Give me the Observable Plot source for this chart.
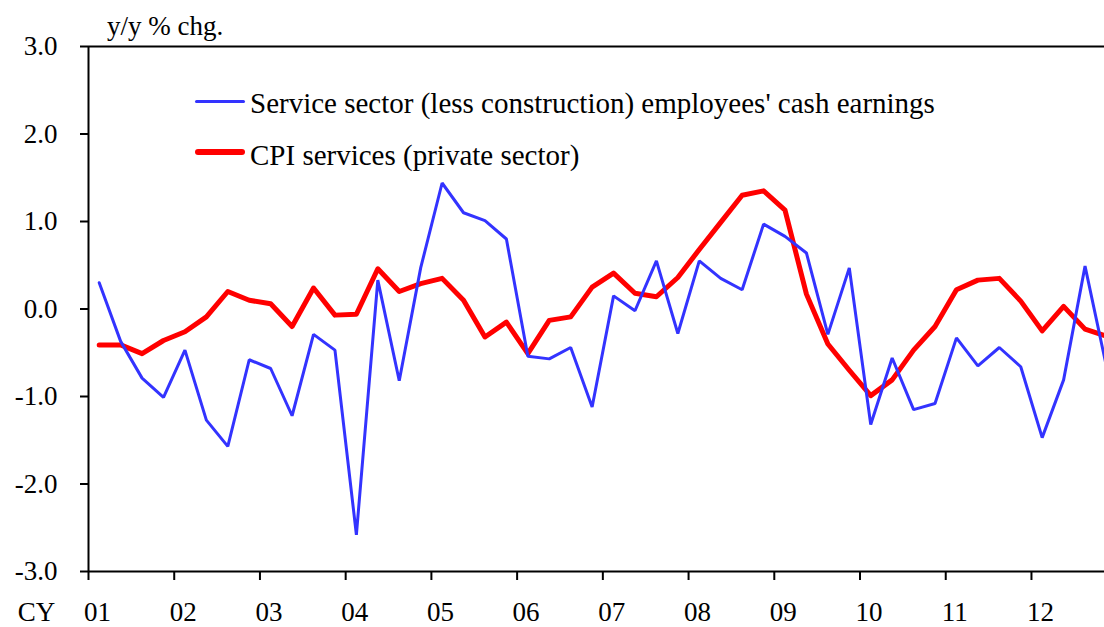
<!DOCTYPE html>
<html><head><meta charset="utf-8">
<script src="https://cdn.jsdelivr.net/npm/d3@7"></script>
<script src="https://cdn.jsdelivr.net/npm/@observablehq/plot@0.6"></script>
<style>
html,body{margin:0;background:#fff;overflow:hidden;}
#wrap{position:relative;width:1104px;height:627px;overflow:hidden;font-family:"Liberation Serif","Times New Roman",serif;color:#000;}
#wrap svg{position:absolute;left:0;top:0;}
#wrap svg text{font-family:"Liberation Serif","Times New Roman",serif;}
.lbl{position:absolute;white-space:nowrap;line-height:20px;}
.sw{position:absolute;width:50px;}
</style></head><body><div id="wrap"></div>
<script>
const yearLabels = ["01","02","03","04","05","06","07","08","09","10","11","12"];
const yearTicks = [2001,2002,2003,2004,2005,2006,2007,2008,2009,2010,2011,2012];
const yTicks = [-3,-2,-1,0,1,2,3];
const seriesNames = ["Service sector (less construction) employees' cash earnings","CPI services (private sector)"];
// quarterly y/y % chg., 2001Q1 - 2012Q4
const wages = [0.30,-0.37,-0.79,-1.01,-0.47,-1.27,-1.57,-0.58,-0.68,-1.22,-0.29,-0.47,
               -2.58,0.33,-0.82,0.47,1.44,1.10,1.01,0.80,-0.54,-0.57,-0.44,-1.12,
               0.15,-0.02,0.55,-0.28,0.55,0.35,0.22,0.97,0.83,0.64,-0.29,0.47,
               -1.32,-0.56,-1.15,-1.08,-0.33,-0.65,-0.44,-0.66,-1.47,-0.81,0.49,-0.66];
const cpi = [-0.41,-0.41,-0.51,-0.36,-0.26,-0.09,0.20,0.10,0.06,-0.20,0.24,-0.07,
             -0.06,0.46,0.20,0.29,0.35,0.10,-0.32,-0.15,-0.51,-0.13,-0.09,0.25,
             0.41,0.18,0.14,0.36,0.68,0.99,1.30,1.35,1.13,0.17,-0.40,-0.70,
             -0.99,-0.81,-0.47,-0.20,0.22,0.33,0.35,0.09,-0.25,0.03,-0.23,-0.31];
const colors = ["#3333ff","#ff0000"];

const qx = i => 2001 + (i + 0.5) / 4;
const wData = wages.map((v,i)=>({x:qx(i), y:v}));
const cData = cpi.map((v,i)=>({x:qx(i), y:v}));

const font = '"Liberation Serif","Times New Roman",serif';
const chart = Plot.plot({
  width:1104, height:627,
  marginLeft:88, marginRight:0, marginTop:46, marginBottom:56,
  style:{fontFamily:font, background:"transparent", color:"#000"},
  x:{domain:[2001, 2012.852]},
  y:{domain:[-3,3]},
  marks:[
    Plot.axisY({ticks:yTicks, tickFormat:d=>d.toFixed(1), tickSize:8, tickPadding:23, fontSize:27, fontFamily:font, strokeWidth:2, label:null}),
    Plot.axisX({ticks:yearTicks, tickFormat:()=> "", tickSize:9, strokeWidth:2, label:null}),
    Plot.text(yearTicks, {x:d=>d, text:(d,i)=>yearLabels[i], frameAnchor:"bottom", dy:49, dx:9, fontSize:27, fontFamily:font}),
    Plot.text(["CY"], {x:yearTicks[0], text:d=>d, frameAnchor:"bottom", dy:49, dx:-52, fontSize:27, fontFamily:font}),
    Plot.ruleY([3], {stroke:"#000", strokeWidth:2}),
    Plot.ruleY([-3], {stroke:"#000", strokeWidth:2}),
    Plot.ruleX([2001], {stroke:"#000", strokeWidth:2}),
    Plot.line(cData, {x:"x", y:"y", stroke:colors[1], strokeWidth:5, strokeLinejoin:"round", clip:true}),
    Plot.line(wData, {x:"x", y:"y", stroke:colors[0], strokeWidth:3, strokeLinejoin:"miter", clip:true})
  ]
});
const wrap = document.getElementById("wrap");
wrap.appendChild(chart);

// place text so that its baseline sits at `base` (line-height 20px)
function addLabel(text, left, base, size){
  const d = document.createElement("div");
  d.className = "lbl"; d.textContent = text;
  const off = 10 + (0.891 - 0.216) / 2 * size;
  d.style.left = left+"px"; d.style.top = (base - off)+"px"; d.style.fontSize = size+"px";
  wrap.appendChild(d);
}
function addSwatch(i, left, cy, w){
  const s = document.createElement("div");
  s.className = "sw";
  s.style.left = left+"px"; s.style.top = (cy - w/2)+"px";
  s.style.height = w+"px"; s.style.background = colors[i];
  s.style.borderRadius = (w/2)+"px";
  wrap.appendChild(s);
}
addLabel("y/y % chg.", 107, 35, 27);
addSwatch(0, 195, 101, 3);
addLabel(seriesNames[0], 250, 113, 29);
addSwatch(1, 195, 152, 6);
addLabel(seriesNames[1], 250, 165, 29);
</script></body></html>
